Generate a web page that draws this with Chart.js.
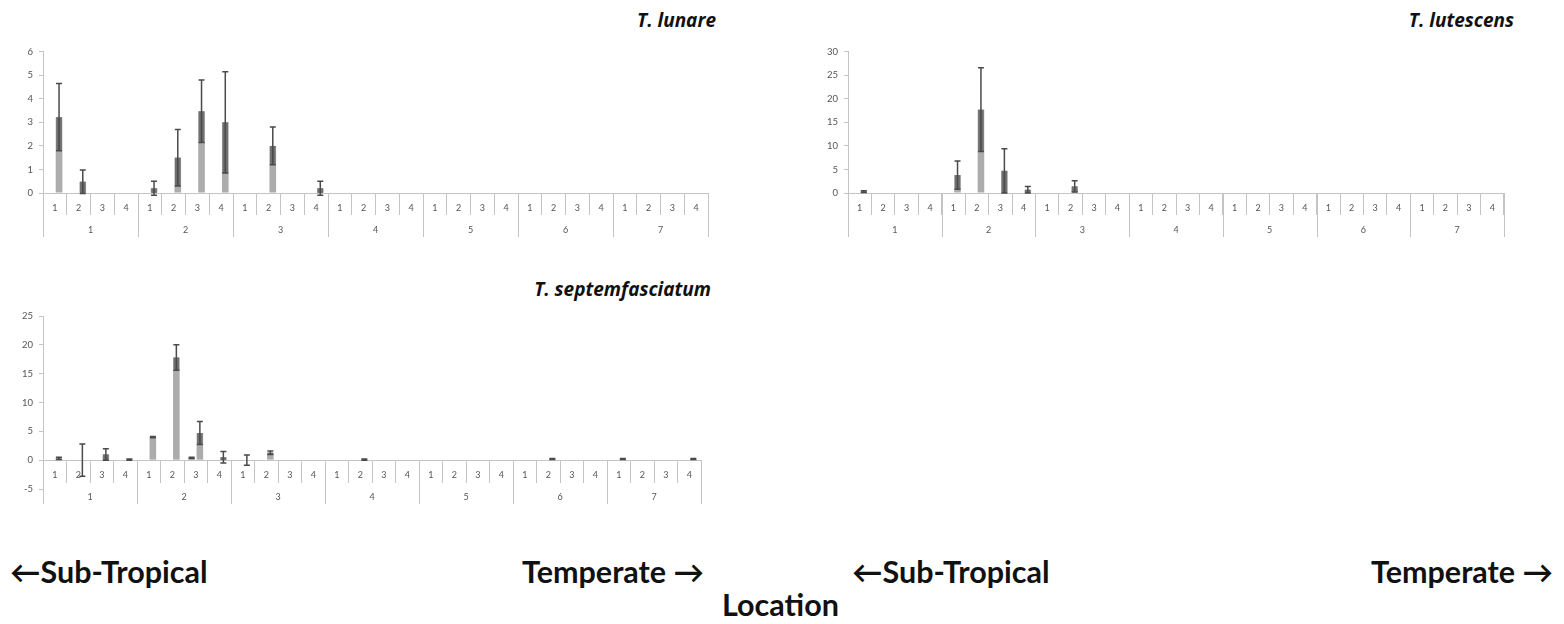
<!DOCTYPE html>
<html lang="en">
<head>
<meta charset="UTF-8" />
<title>Abundance by location</title>
<script src="https://cdn.jsdelivr.net/npm/chart.js"></script>
<style>
  body { margin: 0; background: #fff; width: 1564px; height: 624px; position: relative; overflow: hidden; font-family: Lato, "Open Sans", sans-serif; }
  canvas { position: absolute; }
  .title { position: absolute; font-family: "Open Sans", Lato, sans-serif; font-weight: 700; font-style: italic; font-size: 19px; line-height: 22px; color: #111; white-space: nowrap; }
  .note { position: absolute; font-weight: 700; font-size: 30.5px; line-height: 34px; color: #111; white-space: nowrap; }
</style>
</head>
<body>
<div class="title" style="right:848px; top:9px">T. lunare</div>
<div class="title" style="right:50px; top:9px">T. lutescens</div>
<div class="title" style="right:853px; top:278px">T. septemfasciatum</div>

<canvas id="lunare" width="720" height="200" style="left:0; top:40px"></canvas>
<canvas id="lutescens" width="711" height="200" style="left:805px; top:40px"></canvas>
<canvas id="septem" width="713" height="210" style="left:0; top:300px"></canvas>

<div class="note" style="left:10px; top:554px">←Sub-Tropical</div>
<div class="note" style="right:860px; top:554px">Temperate →</div>
<div class="note" style="left:852px; top:554px">←Sub-Tropical</div>
<div class="note" style="right:11px; top:554px">Temperate →</div>
<div class="note" style="left:722px; top:587px">Location</div>

<script>
  // sites: 7 locations, each with 4 sampling points
  const groups = ["1", "2", "3", "4", "5", "6", "7"];
  const subSites = ["1", "2", "3", "4"];

  // T. lunare
  const lunareMean = [3.22, 0.48, 0, 0, 0.2, 1.5, 3.47, 3.0, 0, 2.0, 0, 0.2, 0, 0, 0, 0, 0, 0, 0, 0, 0, 0, 0, 0, 0, 0, 0, 0];
  const lunareErr = [1.43, 0.5, 0, 0, 0.3, 1.2, 1.33, 2.15, 0, 0.8, 0, 0.3, 0, 0, 0, 0, 0, 0, 0, 0, 0, 0, 0, 0, 0, 0, 0, 0];
  const lunareTicks = [0, 1, 2, 3, 4, 5, 6];

  // T. lutescens
  const lutescensMean = [0.3, 0, 0, 0, 3.8, 17.7, 4.7, 0.7, 0, 1.4, 0, 0, 0, 0, 0, 0, 0, 0, 0, 0, 0, 0, 0, 0, 0, 0, 0, 0];
  const lutescensErr = [0.2, 0, 0, 0, 3.0, 8.9, 4.7, 0.7, 0, 1.2, 0, 0, 0, 0, 0, 0, 0, 0, 0, 0, 0, 0, 0, 0, 0, 0, 0, 0];
  const lutescensTicks = [0, 5, 10, 15, 20, 25, 30];

  // T. septemfasciatum (two series per site)
  const septemMeanA = [0, 0, 0, 0, 0, 0, 0.4, 0, 0, 0, 0, 0, 0, 0, 0, 0, 0, 0, 0, 0, 0, 0, 0, 0, 0, 0, 0, 0];
  const septemErrA = [0, 0, 0, 0, 0, 0, 0.1, 0, 0, 0, 0, 0, 0, 0, 0, 0, 0, 0, 0, 0, 0, 0, 0, 0, 0, 0, 0, 0];
  const septemMean = [0.3, 0, 1.0, 0.1, 4.0, 17.8, 4.7, 0.5, 0, 1.3, 0, 0, 0, 0.1, 0, 0, 0, 0, 0, 0, 0, 0.2, 0, 0, 0.2, 0, 0, 0.2];
  const septemErr = [0.2, 2.8, 1.0, 0.1, 0.1, 2.2, 2.0, 1.0, 0.9, 0.3, 0, 0, 0, 0.1, 0, 0, 0, 0, 0, 0, 0, 0.1, 0, 0, 0.1, 0, 0, 0.1];
  const septemTicks = [-5, 0, 5, 10, 15, 20, 25];

  const empty = lunareMean.map(() => 0);
  const labels = groups.flatMap(() => subSites);

  const axisGrey = "#c4c4c4";
  const labelGrey = "#555";

  // whiskers, with the part that runs inside a bar shaded darker
  const errorBars = {
    id: "errorBars",
    afterDatasetsDraw(chart) {
      const ctx = chart.ctx;
      const y = chart.scales.y;
      const zero = y.getPixelForValue(0);
      chart.data.datasets.forEach((ds, di) => {
        if (!ds.errors) return;
        chart.getDatasetMeta(di).data.forEach((bar, i) => {
          const e = ds.errors[i];
          if (!e) return;
          const v = ds.data[i];
          const top = y.getPixelForValue(v + e);
          const low = y.getPixelForValue(v - e);
          const mid = y.getPixelForValue(v);
          ctx.save();
          const band = Math.min(low, zero);
          if (band > mid) {
            ctx.fillStyle = "#707070";
            ctx.fillRect(bar.x - bar.width / 2 + 0.5, mid, bar.width - 1, band - mid);
          }
          ctx.strokeStyle = "#4a4a4a";
          ctx.lineWidth = 1.5;
          ctx.beginPath();
          ctx.moveTo(bar.x, top);
          ctx.lineTo(bar.x, low);
          ctx.moveTo(bar.x - 3, top);
          ctx.lineTo(bar.x + 3, top);
          ctx.moveTo(bar.x - 3, low);
          ctx.lineTo(bar.x + 3, low);
          ctx.stroke();
          ctx.restore();
        });
      });
    },
  };

  // second label row: location number and long separators between locations
  const groupAxis = {
    id: "groupAxis",
    afterDraw(chart) {
      const x = chart.scales.x;
      const ctx = chart.ctx;
      const step = x.getPixelForValue(1) - x.getPixelForValue(0);
      const base = Math.round(chart.scales.y.getPixelForValue(0));
      ctx.save();
      ctx.strokeStyle = axisGrey;
      ctx.lineWidth = 1;
      ctx.fillStyle = labelGrey;
      ctx.font = "9px Lato";
      ctx.textAlign = "center";
      ctx.textBaseline = "middle";
      groups.forEach((g, gi) => {
        const first = gi * subSites.length;
        const last = first + subSites.length - 1;
        const left = x.getPixelForValue(first) - step / 2;
        const right = x.getPixelForValue(last) + step / 2;
        ctx.beginPath();
        ctx.moveTo(Math.round(left) + 0.5, base);
        ctx.lineTo(Math.round(left) + 0.5, base + 44);
        if (gi === groups.length - 1) {
          ctx.moveTo(Math.round(right) + 0.5, base);
          ctx.lineTo(Math.round(right) + 0.5, base + 44);
        }
        ctx.stroke();
        ctx.fillText(g, (left + right) / 2, base + 37);
      });
      ctx.restore();
    },
  };

  function makeChart(id, seriesA, errA, seriesB, errB, ticks, pad, xPos) {
    return new Chart(document.getElementById(id), {
      type: "bar",
      data: {
        labels,
        datasets: [
          { data: seriesA, errors: errA, backgroundColor: "#acacac", categoryPercentage: 0.7, barPercentage: 0.8 },
          { data: seriesB, errors: errB, backgroundColor: "#acacac", categoryPercentage: 0.7, barPercentage: 0.8 },
        ],
      },
      options: {
        responsive: false,
        animation: false,
        layout: { padding: pad },
        plugins: { legend: { display: false }, tooltip: { enabled: false } },
        scales: {
          x: {
            position: xPos,
            grid: { offset: true, drawOnChartArea: false, tickLength: 22, color: axisGrey },
            border: { color: axisGrey },
            ticks: { color: labelGrey, font: { size: 9, family: "Lato" }, padding: -12, autoSkip: false, maxRotation: 0 },
            afterFit: (s) => { s.height = 44; },
          },
          y: {
            min: ticks[0],
            max: ticks[ticks.length - 1],
            grid: { drawOnChartArea: false, tickLength: 4, color: axisGrey },
            border: { color: axisGrey },
            ticks: { stepSize: ticks[1] - ticks[0], color: labelGrey, font: { size: 9.5, family: "Lato" }, padding: 6 },
            afterFit: (s) => { s.width = 43; },
          },
        },
      },
      plugins: [errorBars, groupAxis],
    });
  }

  makeChart("lunare", empty, empty, lunareMean, lunareErr, lunareTicks, { top: 11, bottom: 3, right: 12 }, "bottom");
  makeChart("lutescens", empty, empty, lutescensMean, lutescensErr, lutescensTicks, { top: 11, bottom: 3, right: 12 }, "bottom");
  makeChart("septem", septemMeanA, septemErrA, septemMean, septemErr, septemTicks, { top: 16, bottom: 21, right: 12 }, { y: 0 });
</script>
</body>
</html>
